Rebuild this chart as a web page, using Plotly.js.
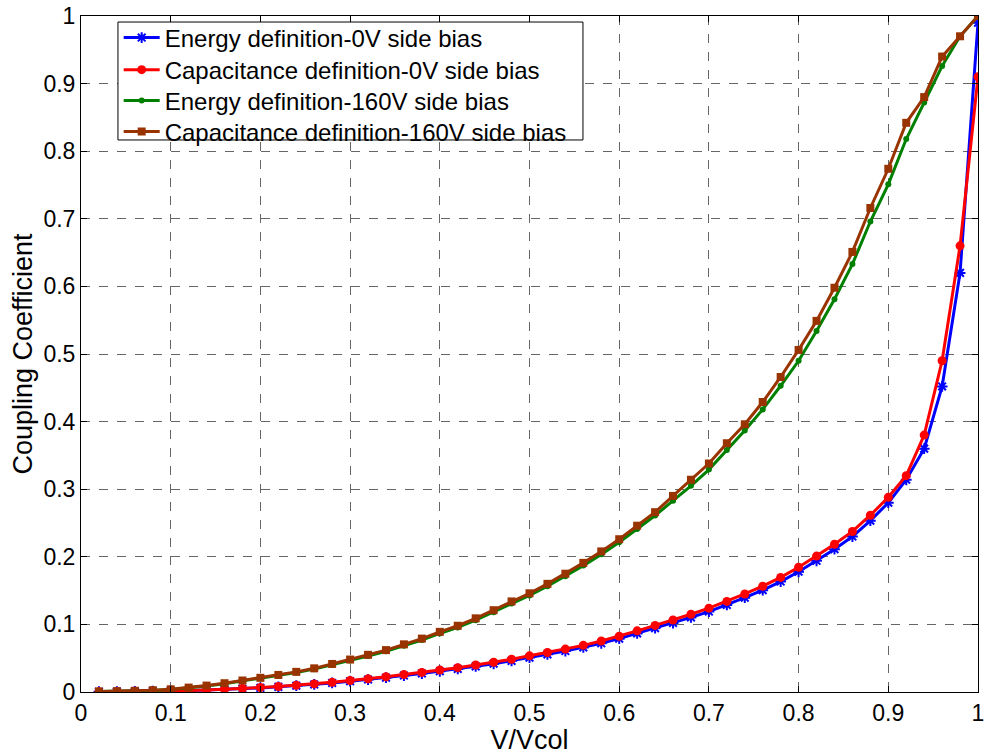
<!DOCTYPE html>
<html>
<head>
<meta charset="utf-8">
<script src="https://cdn.plot.ly/plotly-3.0.1.min.js"></script>
<style>
  html, body { margin: 0; padding: 0; background: #fff; }
  #chart { width: 988px; height: 755px; }
</style>
</head>
<body>
<div id="chart"></div>
<script>
// Normalised voltage V/Vcol
const vRatio = [0.02, 0.04, 0.06, 0.08, 0.10, 0.12, 0.14, 0.16, 0.18, 0.20,
                0.22, 0.24, 0.26, 0.28, 0.30, 0.32, 0.34, 0.36, 0.38, 0.40,
                0.42, 0.44, 0.46, 0.48, 0.50, 0.52, 0.54, 0.56, 0.58, 0.60,
                0.62, 0.64, 0.66, 0.68, 0.70, 0.72, 0.74, 0.76, 0.78, 0.80,
                0.82, 0.84, 0.86, 0.88, 0.90, 0.92, 0.94, 0.96, 0.98, 1.00];

// Coupling coefficient, energy definition, 0 V side bias
const energy0V = [0.0004, 0.0006, 0.0009, 0.0012, 0.0016, 0.0022, 0.0029, 0.0037, 0.0048, 0.0061,
                  0.0076, 0.0093, 0.0112, 0.0134, 0.0160, 0.0184, 0.0212, 0.0243, 0.0274, 0.0307,
                  0.0341, 0.0379, 0.0418, 0.0461, 0.0509, 0.0557, 0.0606, 0.0659, 0.0721, 0.0789,
                  0.0866, 0.0944, 0.1021, 0.1103, 0.1190, 0.1288, 0.1395, 0.1507, 0.1634, 0.1779,
                  0.1941, 0.2113, 0.2300, 0.2535, 0.2800, 0.3140, 0.3600, 0.4520, 0.6200, 0.9900];

// Coupling coefficient, capacitance definition, 0 V side bias
const capacitance0V = [0.0005, 0.0007, 0.0010, 0.0013, 0.0018, 0.0024, 0.0031, 0.0040, 0.0052, 0.0066,
                       0.0082, 0.0100, 0.0120, 0.0143, 0.0170, 0.0195, 0.0225, 0.0258, 0.0290, 0.0325,
                       0.0360, 0.0400, 0.0440, 0.0485, 0.0535, 0.0585, 0.0635, 0.0690, 0.0755, 0.0825,
                       0.0905, 0.0985, 0.1065, 0.1150, 0.1240, 0.1340, 0.1450, 0.1565, 0.1695, 0.1845,
                       0.2010, 0.2185, 0.2375, 0.2615, 0.2880, 0.3200, 0.3800, 0.4900, 0.6600, 0.9100];

// Coupling coefficient, energy definition, 160 V side bias
const energy160V = [0.0006, 0.0010, 0.0015, 0.0024, 0.0036, 0.0060, 0.0089, 0.0123, 0.0162, 0.0201,
                    0.0242, 0.0287, 0.0338, 0.0401, 0.0465, 0.0533, 0.0602, 0.0685, 0.0769, 0.0866,
                    0.0955, 0.1062, 0.1180, 0.1308, 0.1428, 0.1565, 0.1712, 0.1870, 0.2036, 0.2215,
                    0.2410, 0.2610, 0.2830, 0.3050, 0.3290, 0.3580, 0.3870, 0.4180, 0.4530, 0.4900,
                    0.5340, 0.5810, 0.6330, 0.6960, 0.7510, 0.8180, 0.8720, 0.9260, 0.9700, 1.0000];

// Coupling coefficient, capacitance definition, 160 V side bias
const capacitance160V = [0.0008, 0.0012, 0.0018, 0.0027, 0.0040, 0.0065, 0.0095, 0.0130, 0.0170, 0.0210,
                         0.0252, 0.0298, 0.0350, 0.0415, 0.0480, 0.0550, 0.0620, 0.0705, 0.0790, 0.0890,
                         0.0980, 0.1090, 0.1210, 0.1340, 0.1460, 0.1600, 0.1750, 0.1910, 0.2080, 0.2260,
                         0.2460, 0.2660, 0.2900, 0.3140, 0.3380, 0.3680, 0.3960, 0.4290, 0.4660, 0.5060,
                         0.5490, 0.5980, 0.6510, 0.7160, 0.7740, 0.8420, 0.8800, 0.9400, 0.9700, 1.0000];

const seriesNames = ['Energy definition-0V side bias',
                     'Capacitance definition-0V side bias',
                     'Energy definition-160V side bias',
                     'Capacitance definition-160V side bias'];

const tickVals = [0, 0.1, 0.2, 0.3, 0.4, 0.5, 0.6, 0.7, 0.8, 0.9, 1];
const tickText = ['0', '0.1', '0.2', '0.3', '0.4', '0.5', '0.6', '0.7', '0.8', '0.9', '1'];

const FONT = 'Liberation Sans, Arial, Helvetica, sans-serif';

const traces = [
  {
    x: vRatio, y: energy0V, name: seriesNames[0], type: 'scatter', mode: 'lines+markers',
    legend: 'legend',
    line: { color: '#0000ff', width: 3 },
    marker: { symbol: 'asterisk-open', size: 9, color: '#0000ff', line: { color: '#0000ff', width: 2 } }
  },
  {
    x: vRatio, y: capacitance0V, name: seriesNames[1], type: 'scatter', mode: 'lines+markers',
    legend: 'legend2',
    line: { color: '#ff0000', width: 3 },
    marker: { symbol: 'circle', size: 9, color: '#ff0000' }
  },
  {
    x: vRatio, y: energy160V, name: seriesNames[2], type: 'scatter', mode: 'lines+markers',
    legend: 'legend3',
    line: { color: '#008000', width: 3 },
    marker: { symbol: 'circle', size: 6, color: '#008000' }
  },
  {
    x: vRatio, y: capacitance160V, name: seriesNames[3], type: 'scatter', mode: 'lines+markers',
    legend: 'legend4',
    line: { color: '#993300', width: 3 },
    marker: { symbol: 'square', size: 8, color: '#993300' }
  }
];

const axisCommon = {
  range: [0, 1],
  tickvals: tickVals,
  ticktext: tickText,
  ticks: 'inside',
  ticklen: 6,
  tickwidth: 1,
  tickcolor: '#000',
  showline: true,
  linecolor: '#000',
  linewidth: 1,
  mirror: 'ticks',
  showgrid: true,
  gridcolor: '#666',
  griddash: 'dash',
  gridwidth: 1,
  zeroline: false,
  tickfont: { family: FONT, size: 23, color: '#000' },
  fixedrange: true
};

// One legend row per series, stacked inside a shared framed box
function legendRow(yCenter) {
  return {
    x: 0.042, y: yCenter, xanchor: 'left', yanchor: 'middle',
    bgcolor: 'rgba(0,0,0,0)', borderwidth: 0,
    itemwidth: 36,
    font: { family: FONT, size: 24, color: '#000' }
  };
}

const layout = {
  width: 988,
  height: 755,
  margin: { l: 81, r: 10, t: 16, b: 63 },
  paper_bgcolor: '#fff',
  plot_bgcolor: '#fff',
  font: { family: FONT, color: '#000' },
  showlegend: true,
  legend: legendRow(0.9675),
  legend2: legendRow(0.920),
  legend3: legendRow(0.8743),
  legend4: legendRow(0.8284),
  shapes: [{
    type: 'rect', xref: 'paper', yref: 'paper', layer: 'above',
    x0: 0.0412, x1: 0.5596, y0: 0.8166, y1: 0.9911,
    fillcolor: '#fff', line: { color: '#000', width: 1 }
  }],
  xaxis: Object.assign({}, axisCommon, {
    title: { text: 'V/Vcol', font: { family: FONT, size: 27, color: '#000' }, standoff: 2 }
  }),
  yaxis: Object.assign({}, axisCommon, {
    title: { text: 'Coupling Coefficient', font: { family: FONT, size: 27, color: '#000' }, standoff: 2 }
  })
};

Plotly.newPlot('chart', traces, layout, { staticPlot: true, displayModeBar: false });
</script>
</body>
</html>
